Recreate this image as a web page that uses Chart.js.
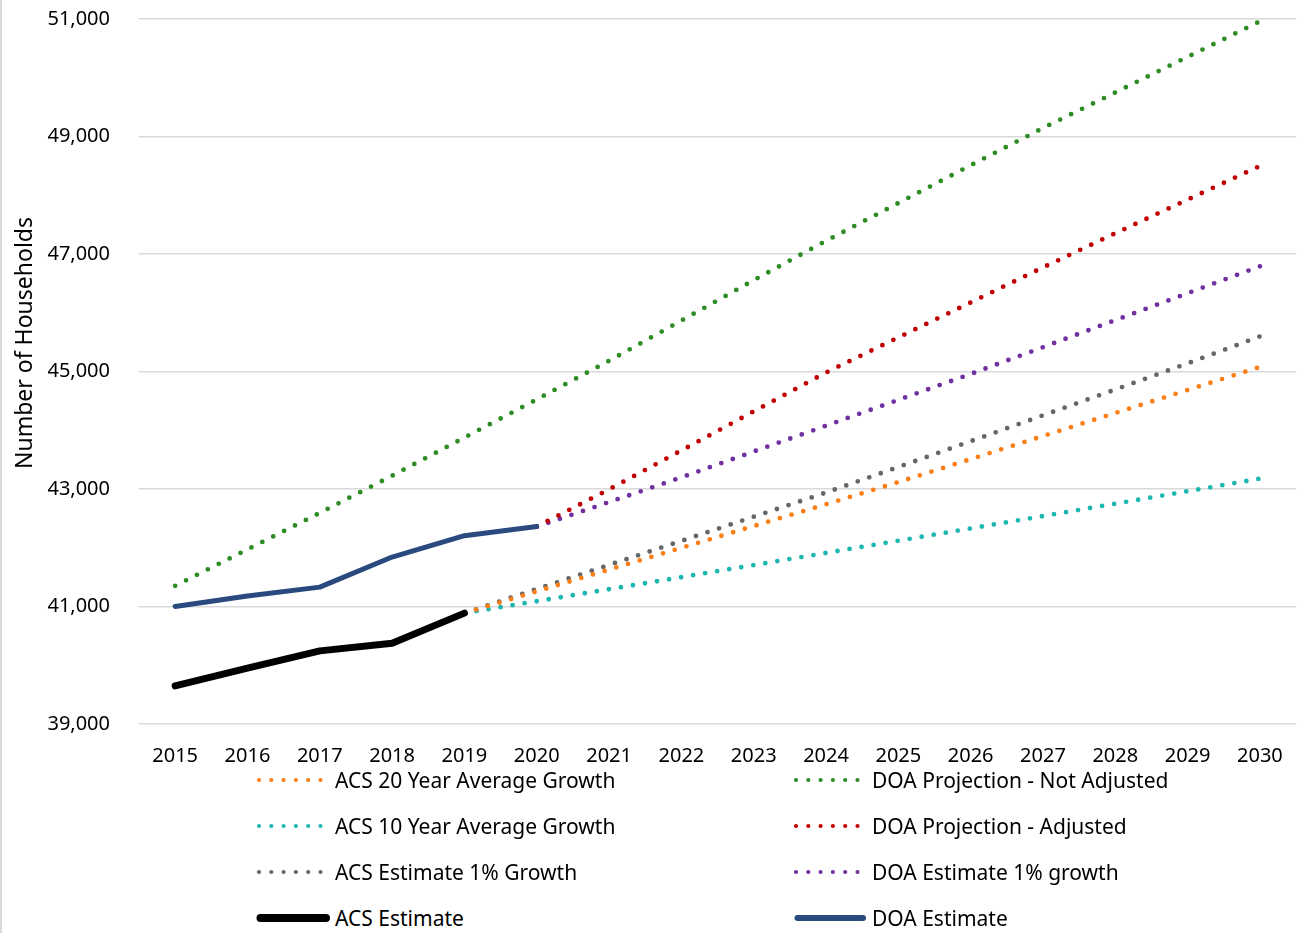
<!DOCTYPE html>
<html>
<head>
<meta charset="utf-8">
<script src="https://cdn.jsdelivr.net/npm/chart.js@4.4.1/dist/chart.umd.min.js"></script>
<style>
  body { margin: 0; background: #fff; font-family: "Noto Sans", sans-serif; }
  #edge { position: absolute; left: 0; top: 0; width: 2px; height: 933px; background: #d9d9d9; }
  #chart-box { position: absolute; left: 0; top: 0; width: 1303px; height: 770px; }
  .legend-item { position: absolute; height: 30px; display: flex; align-items: center;
    font-size: 21px; color: #000; white-space: nowrap; }
</style>
</head>
<body>
<div id="edge"></div>
<div id="chart-box"><canvas id="households"></canvas></div>
<div id="legend"></div>
<script>
const years = ["2015", "2016", "2017", "2018", "2019", "2020", "2021", "2022",
  "2023", "2024", "2025", "2026", "2027", "2028", "2029", "2030"];
const yTitle = "Number of Households";

// solid estimates
const acsEstimate = [39648, 39950, 40245, 40375, 40887, null, null, null,
  null, null, null, null, null, null, null, null];
const doaEstimate = [41000, 41180, 41330, 41842, 42205, 42360, null, null,
  null, null, null, null, null, null, null, null];

// dotted projections
const acs20Year = [null, null, null, null, 40887, 41258, 41628, 41999,
  42369, 42740, 43117, 43509, 43901, 44293, 44685, 45077];
const acs10Year = [null, null, null, null, 40887, 41090, 41294, 41499,
  41705, 41912, 42120, 42329, 42539, 42750, 42962, 43176];
const acs1Pct = [null, null, null, null, 40887, 41297, 41707, 42117,
  42528, 42939, 43374, 43813, 44253, 44693, 45138, 45597];
const doaNotAdjusted = [41352, 41972, 42593, 43226, 43875, 44524, 45182, 45867,
  46554, 47224, 47867, 48510, 49144, 49750, 50356, 50960];
const doaAdjusted = [null, null, null, null, null, 42360, 42994, 43656,
  44320, 44983, 45580, 46175, 46771, 47353, 47926, 48498];
const doa1Pct = [null, null, null, null, null, 42360, 42777, 43198,
  43638, 44077, 44517, 44957, 45414, 45873, 46332, 46790];

const dotted = (label, data, color) => ({
  label: label, data: data, borderColor: color, backgroundColor: color,
  borderWidth: 4.8, borderDash: [0, 12.2], borderCapStyle: "round",
  pointRadius: 0, tension: 0, order: 1, dotted: true,
});
const solid = (label, data, color, width) => ({
  label: label, data: data, borderColor: color, backgroundColor: color,
  borderWidth: width, borderCapStyle: "round", borderJoinStyle: "round",
  pointRadius: 0, tension: 0, order: 0, dotted: false,
});

const datasets = [
  dotted("ACS 20 Year Average Growth", acs20Year, "#FA7F17"),
  dotted("DOA Projection - Not Adjusted", doaNotAdjusted, "#2E8C25"),
  dotted("ACS 10 Year Average Growth", acs10Year, "#1EB6B1"),
  dotted("DOA Projection - Adjusted", doaAdjusted, "#C00000"),
  dotted("ACS Estimate 1% Growth", acs1Pct, "#666666"),
  dotted("DOA Estimate 1% growth", doa1Pct, "#7030A0"),
  solid("ACS Estimate", acsEstimate, "#000000", 7),
  solid("DOA Estimate", doaEstimate, "#2A4A7F", 5),
];

//rotated axis title, placed like the original (not centred on plot)
const yTitlePlugin = {
  id: "yTitle",
  afterDraw(chart) {
    const ctx = chart.ctx;
    ctx.save();
    ctx.translate(32, 343);
    ctx.rotate(-Math.PI / 2);
    ctx.font = '23px "Noto Sans"';
    ctx.fillStyle = "#000";
    ctx.textAlign = "center";
    ctx.textBaseline = "alphabetic";
    ctx.fillText(yTitle, 0, 0);
    ctx.restore();
  },
};

const chart = new Chart(document.getElementById("households"), {
  type: "line",
  data: { labels: years, datasets: datasets },
  plugins: [yTitlePlugin],
  options: {
    responsive: true,
    maintainAspectRatio: false,
    animation: false,
    spanGaps: false,
    layout: { padding: { top: 19, right: 6, left: 0, bottom: 0 } },
    plugins: { legend: { display: false }, tooltip: { enabled: false } },
    scales: {
      x: {
        offset: true,
        grid: { display: false, drawTicks: false },
        border: { display: false },
        ticks: { color: "#000", font: { family: "Noto Sans", size: 20 }, padding: 20,
          maxRotation: 0, autoSkip: false },
        afterFit: (scale) => { scale.height = 46; },
      },
      y: {
        min: 39000, max: 51000,
        grid: { color: "#d9d9d9", lineWidth: 1.6, drawTicks: false },
        border: { display: false },
        ticks: { stepSize: 2000, color: "#000", padding: 29,
          font: { family: "Noto Sans", size: 20 },
          callback: (v) => v.toLocaleString("en-US") },
        afterFit: (scale) => {
          scale.width = 139;
          scale.paddingTop = 0;
          scale.paddingBottom = 0;
        },
      },
    },
  },
});

//legend in two columns, like the original
const leftCol = [0, 2, 4, 6];
const rightCol = [1, 3, 5, 7];
const rowY = [780, 826, 872, 918];
const legend = document.getElementById("legend");

function addItem(ds, x, y) {
  const item = document.createElement("div");
  item.className = "legend-item";
  item.style.left = x + "px";
  item.style.top = (y - 15) + "px";
  const c = document.createElement("canvas");
  c.width = 81; c.height = 20;
  const g = c.getContext("2d");
  g.strokeStyle = ds.borderColor;
  g.lineCap = "round";
  g.beginPath();
  if (ds.dotted) {
    g.lineWidth = 4.2;
    g.setLineDash([0, 12.3]);
    g.moveTo(5, 10); g.lineTo(70, 10);
  } else {
    g.lineWidth = ds.borderWidth + 1;
    g.moveTo(6.5, 10); g.lineTo(72, 10);
  }
  g.stroke();
  const t = document.createElement("span");
  t.textContent = ds.label;
  item.appendChild(c);
  item.appendChild(t);
  legend.appendChild(item);
}
leftCol.forEach((i, r) => addItem(datasets[i], 254, rowY[r]));
rightCol.forEach((i, r) => addItem(datasets[i], 791, rowY[r]));
</script>
</body>
</html>
